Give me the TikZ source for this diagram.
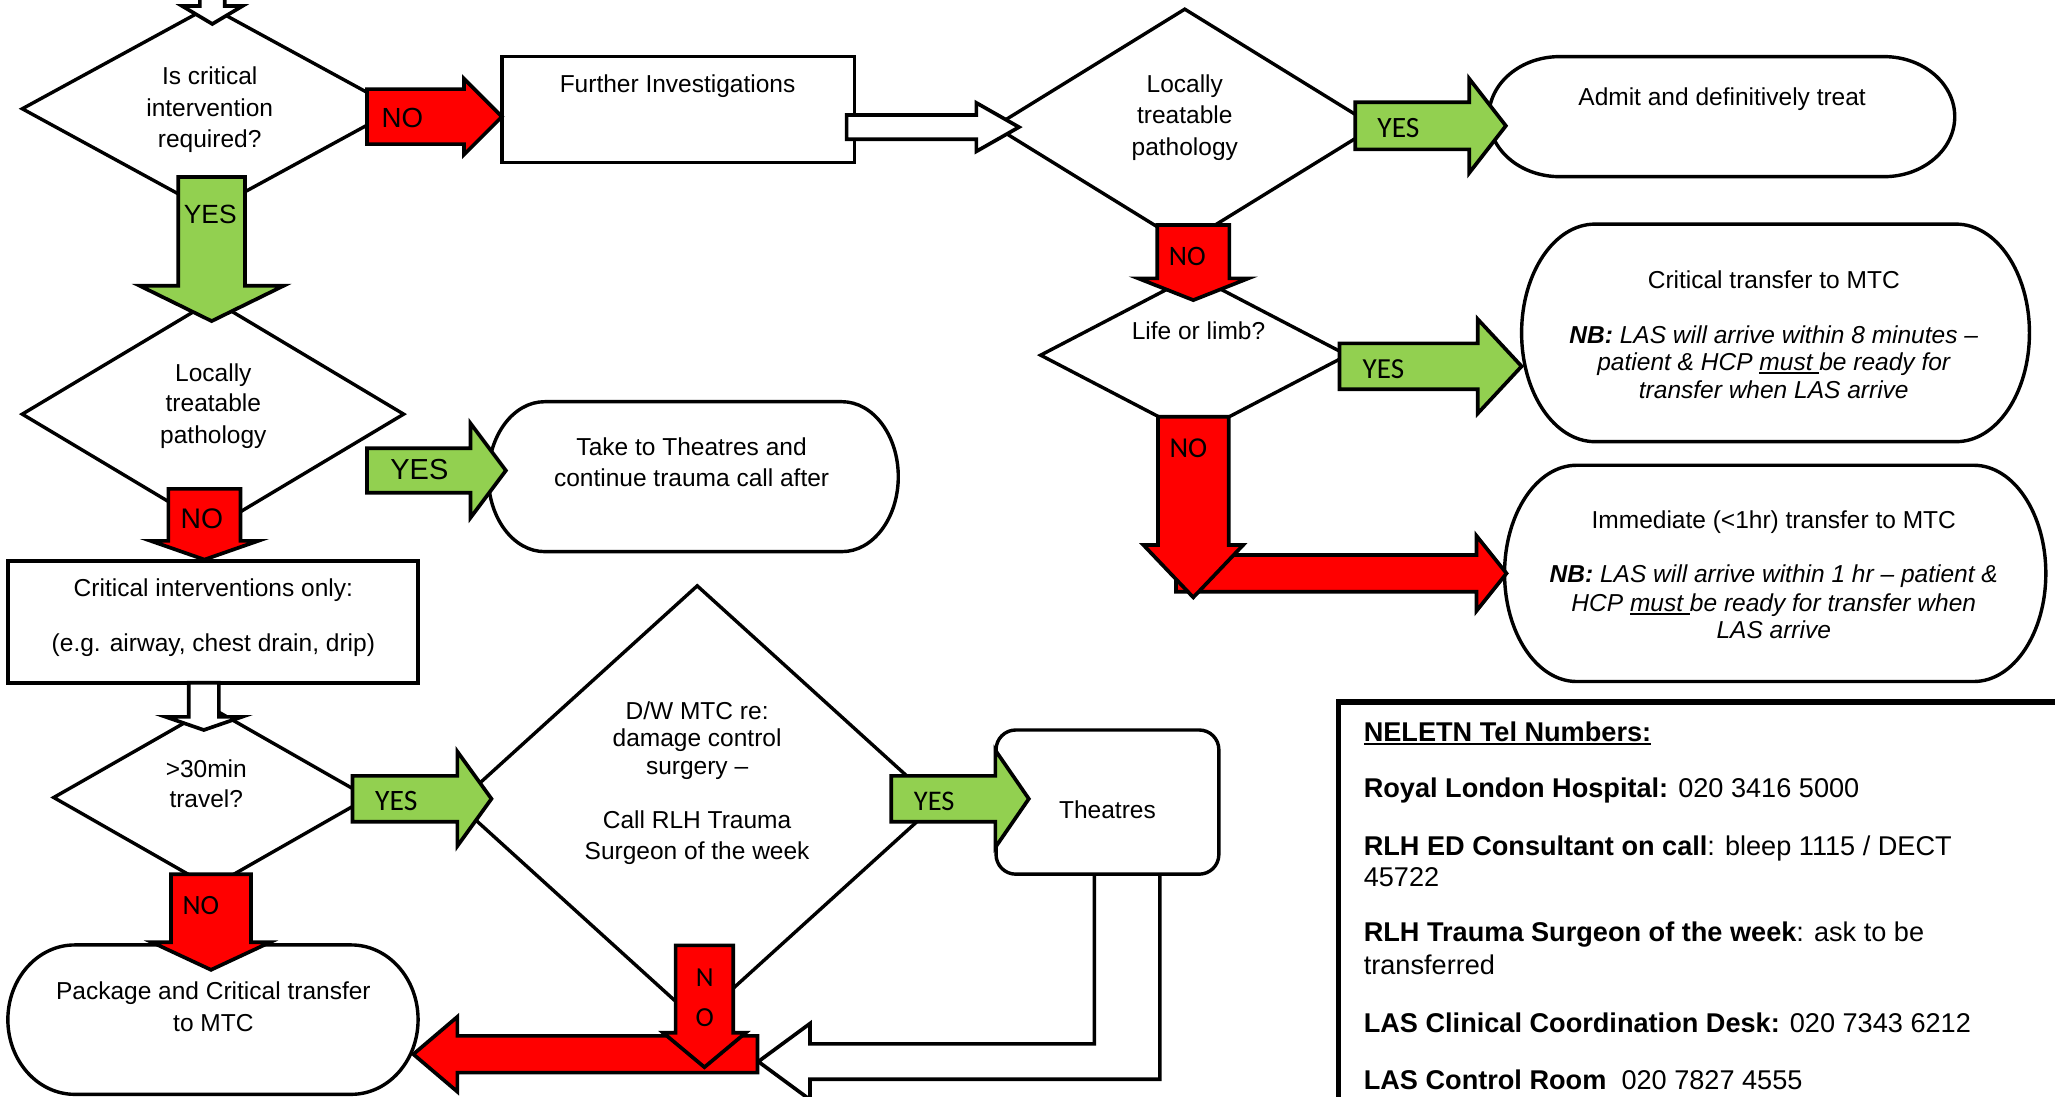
\documentclass[tikz,border=0pt]{standalone}
\usepackage{fontspec}
\setmainfont{Liberation Sans}
\newfontfamily\calib{Carlito}
\definecolor{myred}{HTML}{FF0000}
\definecolor{mygreen}{HTML}{92D050}
\newcommand{\fsz}[1]{\fontsize{#1}{#1}\selectfont}
\newcommand{\ulin}[1]{\setbox0\hbox{#1}\rlap{\rule[-2.6pt]{\wd0}{1.5pt}}\box0}
\newcommand{\blockH}[7]{\draw[#1] (#2,#5-#6) -- (#3,#5-#6) -- (#3,#5-#7) -- (#4,#5) -- (#3,#5+#7) -- (#3,#5+#6) -- (#2,#5+#6) -- cycle;}
\newcommand{\blockV}[7]{\draw[#1] (#5-#6,#2) -- (#5-#6,#3) -- (#5-#7,#3) -- (#5,#4) -- (#5+#7,#3) -- (#5+#6,#3) -- (#5+#6,#2) -- cycle;}
\newcommand{\stad}[6]{\draw[shp] (#1+#5,#2) -- (#3-#5,#2) arc[start angle=-90,end angle=90,x radius=#5,y radius=#6] -- (#1+#5,#4) arc[start angle=90,end angle=270,x radius=#5,y radius=#6] -- cycle;}
\newcommand{\diam}[4]{\draw[shp] (#1-#3,#2) -- (#1,#2-#4) -- (#1+#3,#2) -- (#1,#2+#4) -- cycle;}
\begin{document}
\begin{tikzpicture}[x=1pt,y=-1pt,
  shp/.style={draw=black,line width=2.6pt,fill=white,line join=miter},
  rA/.style={draw=black,line width=2.8pt,fill=myred,line join=miter},
  gA/.style={draw=black,line width=2.8pt,fill=mygreen,line join=miter},
  wA/.style={draw=black,line width=2.8pt,fill=white,line join=miter},
  t/.style={anchor=base,inner sep=0pt,font=\fsz{18.7}},
  tl/.style={anchor=base west,inner sep=0pt,font=\fsz{20.7}},
  lb/.style={anchor=base,inner sep=0pt}]
\useasboundingbox (0,0) rectangle (1568,837);
\clip (0,0) rectangle (1568,837);
\fill[white] (0,0) rectangle (1568,837);

% ---- shapes ----
\diam{160}{83}{143}{78}
\draw[shp] (383,43) rectangle (652,124);
\diam{904}{96.5}{145}{89.5}
\stad{1136}{43.2}{1491.5}{134.8}{54}{45.8}
\diam{911}{271}{117}{61}
\stad{1161}{171}{1548.5}{337}{56}{83}
\stad{1148}{355}{1561}{520}{55}{82.5}
\diam{162.5}{316}{145.5}{87}
\stad{372.6}{306.5}{685.4}{420.9}{43}{57.2}
\draw[shp] (6,428) rectangle (319,521);
\diam{161}{608.5}{120}{68.5}
\diam{532}{613}{183}{166}
\stad{6}{721}{319}{835}{51}{57}
\draw[line width=4.5pt,fill=white] (1021.3,535.3) rectangle (1600,880);
\draw[wA] (835,667) -- (835,796.5) -- (618,796.5) -- (618,781) -- (578.6,810) -- (618,839) -- (618,823.5) -- (885,823.5) -- (885,667);
\draw[shp,rounded corners=15] (760,557) rectangle (930,667);

% ---- block arrows ----
\blockV{wA}{-10}{4.6}{18.3}{162}{9.5}{23}
\blockH{rA}{280}{354}{383}{89}{21}{29}
\blockH{wA}{646}{745}{777.5}{97}{9.3}{18.5}
\blockH{gA}{1034}{1121}{1149}{96}{18}{36}
\blockV{rA}{171.7}{212.4}{229}{910.5}{27.5}{42}
\blockH{gA}{1022}{1127.5}{1161}{279.5}{17.5}{36}
\blockH{rA}{897.3}{1126.6}{1149.5}{437.5}{14}{28.6}
\blockV{rA}{318}{415.9}{455.8}{910.5}{27}{38}
\blockV{gA}{135}{218}{245}{161.5}{25.5}{55}
\blockH{gA}{280}{359}{386}{359}{17}{36}
\blockV{rA}{373}{412.7}{427}{156}{27.5}{41}
\blockV{wA}{521}{547}{557}{155.5}{11.5}{29}
\blockH{gA}{269}{349}{375}{609.5}{17.5}{36}
\blockV{rA}{667}{719}{740}{161}{30.5}{45}
\blockH{gA}{680}{759.5}{785}{609.5}{17.5}{37}
\blockH{rA}{578}{349}{315.4}{804.4}{14}{28.6}
\blockV{rA}{721.3}{788}{814.3}{537.5}{22}{31.5}

% ---- texts ----
\node[t] (d1a) at (160,64.7) {Is critical};
\node[t] (d1b) at (160,89.2) {intervention};
\node[t] (d1c) at (160,112.9) {required?};
\node[t] (fi) at (517,70.3) {Further Investigations};
\node[t] (d2a) at (904,70.3) {Locally};
\node[t] (d2b) at (904,94.4) {treatable};
\node[t] (d2c) at (904,118.7) {pathology};
\node[t] (adm) at (1314,80.4) {Admit and definitively treat};
\node[t] (d3a) at (914.5,259) {Life or limb?};
\node[t] (ct1) at (1353.4,220.3) {Critical transfer to MTC};
\node[t] (ct2) at (1353.4,262.3) {\itshape\textbf{NB:} LAS will arrive within 8 minutes –};
\node[t] (ct3) at (1353.4,282.7) {\itshape patient \& HCP \ulin{must }be ready for};
\node[t] (ct4) at (1353.4,303.7) {\itshape transfer when LAS arrive};
\node[t] (im1) at (1353.4,403.4) {Immediate (<1hr) transfer to MTC};
\node[t] (im2) at (1353.4,444.7) {\itshape\textbf{NB:} LAS will arrive within 1 hr – patient \&};
\node[t] (im3) at (1353.4,466.5) {\itshape HCP \ulin{must }be ready for transfer when};
\node[t] (im4) at (1353.4,487.4) {\itshape LAS arrive};
\node[t] (d4a) at (162.8,290.8) {Locally};
\node[t] (d4b) at (162.8,314) {treatable};
\node[t] (d4c) at (162.8,338.5) {pathology};
\node[t] (tk1) at (527.7,347.5) {Take to Theatres and};
\node[t] (tk2) at (527.7,370.9) {continue trauma call after};
\node[t] (ci1) at (162.8,455.3) {Critical interventions only:};
\node[t] (ci2) at (162.8,497.3) {(e.g. airway, chest drain, drip)};
\node[t] (d5a) at (157.4,592.9) {>30min};
\node[t] (d5b) at (157.4,615.9) {travel?};
\node[t] (d6a) at (531.9,549) {D/W MTC re:};
\node[t] (d6b) at (531.9,569.4) {damage control};
\node[t] (d6c) at (531.9,590.8) {surgery –};
\node[t] (d6d) at (531.9,631.8) {Call RLH Trauma};
\node[t] (d6e) at (531.9,656.1) {Surgeon of the week};
\node[t] (th) at (845,624.8) {Theatres};
\node[t] (pk1) at (162.8,762.7) {Package and Critical transfer};
\node[t] (pk2) at (162.8,787.1) {to MTC};

\node[tl] (tel0) at (1040.4,565.6) {\ulin{\textbf{NELETN Tel Numbers:}}};
\node[tl] (tel1) at (1040.4,608.8) {\textbf{Royal London Hospital:} 020 3416 5000};
\node[tl] (tel2) at (1040.4,652.6) {\textbf{RLH ED Consultant on call}: bleep 1115 / DECT};
\node[tl] (tel3) at (1040.4,676.7) {45722};
\node[tl] (tel4) at (1040.4,718.7) {\textbf{RLH Trauma Surgeon of the week}: ask to be};
\node[tl] (tel5) at (1040.4,743.6) {transferred};
\node[tl] (tel6) at (1040.4,788.1) {\textbf{LAS Clinical Coordination Desk:} 020 7343 6212};
\node[tl] (tel7) at (1040.4,831.4) {\textbf{LAS Control Room}\ \ 020 7827 4555};

% ---- arrow labels ----
\node[lb,font=\fsz{21.1}] (l1) at (307,97) {NO};
\node[lb,font=\fsz{20.1}] (l2) at (160.4,170.2) {YES};
\node[lb,font=\calib\fsz{22.5}] (l3) at (1067,105.1) {YES};
\node[lb,font=\calib\fsz{21.5}] (l4) at (906,202.3) {NO};
\node[lb,font=\calib\fsz{22.2}] (l5) at (1055.6,289) {YES};
\node[lb,font=\calib\fsz{22}] (l6) at (906.8,349.1) {NO};
\node[lb,font=\fsz{22.1}] (l7) at (320,366.1) {YES};
\node[lb,font=\fsz{21.6}] (l8) at (154,403.2) {NO};
\node[lb,font=\calib\fsz{22.6}] (l9) at (302.4,618.3) {YES};
\node[lb,font=\calib\fsz{21.3}] (l10) at (153.3,697.9) {NO};
\node[lb,font=\calib\fsz{21.7}] (l11) at (712.8,618.5) {YES};
\node[lb,font=\calib\fsz{21}] (l12) at (537.7,752.9) {N};
\node[lb,font=\calib\fsz{21}] (l13) at (537.7,782.9) {O};
\end{tikzpicture}
\end{document}
